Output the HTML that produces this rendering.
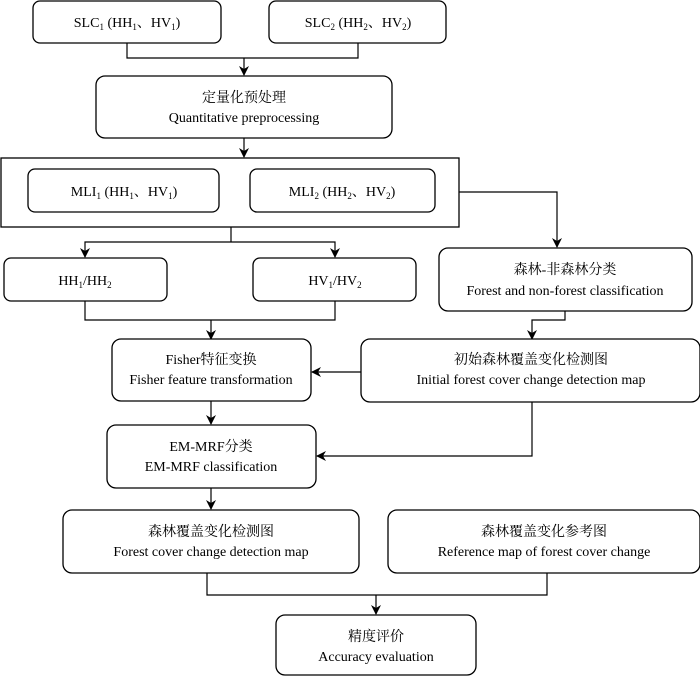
<!DOCTYPE html>
<html><head><meta charset="utf-8"><style>
body{margin:0;background:#fff}
svg{display:block}
text{font-family:"Liberation Serif","Noto Serif CJK SC",serif;font-size:14px;fill:#000;text-anchor:middle}
rect{fill:#fff;stroke:#000;stroke-width:1.3}
path{fill:none;stroke:#000;stroke-width:1.2}
.ah{fill:#000;stroke:none}
</style></head><body>
<svg width="700" height="676" viewBox="0 0 700 676">
<defs><marker id="a" markerWidth="10" markerHeight="10" refX="9" refY="5" orient="auto" markerUnits="userSpaceOnUse"><path class="ah" d="M0,0 L10,5 L0,10 L3,5 Z"/></marker></defs>
<rect x="33" y="1" width="188" height="42" rx="7"/>
<text x="127" y="27">SLC<tspan font-size="9" dy="3">1</tspan><tspan dy="-3"> (HH</tspan><tspan font-size="9" dy="3">1</tspan><tspan dy="-3">、HV</tspan><tspan font-size="9" dy="3">1</tspan><tspan dy="-3">)</tspan></text>
<rect x="269" y="1" width="177" height="42" rx="7"/>
<text x="358" y="27">SLC<tspan font-size="9" dy="3">2</tspan><tspan dy="-3"> (HH</tspan><tspan font-size="9" dy="3">2</tspan><tspan dy="-3">、HV</tspan><tspan font-size="9" dy="3">2</tspan><tspan dy="-3">)</tspan></text>
<path d="M127,43 V58 H358 V43 M244,58 V75" marker-end="url(#a)"/>
<rect x="96" y="76" width="296" height="62" rx="9"/>
<text x="244" y="102">定量化预处理</text>
<text x="244" y="122">Quantitative preprocessing</text>
<path d="M244,138 V157" marker-end="url(#a)"/>
<rect x="1" y="158" width="458" height="69" rx="0"/>
<rect x="28" y="169" width="191" height="43" rx="7"/>
<text x="124" y="196">MLI<tspan font-size="9" dy="3">1</tspan><tspan dy="-3"> (HH</tspan><tspan font-size="9" dy="3">1</tspan><tspan dy="-3">、HV</tspan><tspan font-size="9" dy="3">1</tspan><tspan dy="-3">)</tspan></text>
<rect x="250" y="169" width="185" height="43" rx="7"/>
<text x="342" y="196">MLI<tspan font-size="9" dy="3">2</tspan><tspan dy="-3"> (HH</tspan><tspan font-size="9" dy="3">2</tspan><tspan dy="-3">、HV</tspan><tspan font-size="9" dy="3">2</tspan><tspan dy="-3">)</tspan></text>
<path d="M459,192 H557 V247" marker-end="url(#a)"/>
<path d="M231,227 V242"/>
<path d="M231,242 H85 V257" marker-end="url(#a)"/>
<path d="M231,242 H335 V257" marker-end="url(#a)"/>
<rect x="4" y="258" width="163" height="43" rx="7"/>
<text x="85" y="285">HH<tspan font-size="9" dy="3">1</tspan><tspan dy="-3">/HH</tspan><tspan font-size="9" dy="3">2</tspan></text>
<rect x="253" y="258" width="163" height="43" rx="7"/>
<text x="335" y="285">HV<tspan font-size="9" dy="3">1</tspan><tspan dy="-3">/HV</tspan><tspan font-size="9" dy="3">2</tspan></text>
<rect x="439" y="248" width="253" height="63" rx="9"/>
<text x="565" y="274">森林-非森林分类</text>
<text x="565" y="295">Forest and non-forest classification</text>
<path d="M85,301 V320 H335 V301 M211,320 V339" marker-end="url(#a)"/>
<path d="M565,311 V320 H532 V339" marker-end="url(#a)"/>
<rect x="112" y="339" width="199" height="62" rx="9"/>
<text x="211" y="364">Fisher特征变换</text>
<text x="211" y="384">Fisher feature transformation</text>
<rect x="361" y="339" width="339" height="63" rx="9"/>
<text x="531" y="364">初始森林覆盖变化检测图</text>
<text x="531" y="384">Initial forest cover change detection map</text>
<path d="M361,372 H312" marker-end="url(#a)"/>
<path d="M211,401 V424" marker-end="url(#a)"/>
<rect x="107" y="425" width="209" height="63" rx="9"/>
<text x="211" y="451">EM-MRF分类</text>
<text x="211" y="471">EM-MRF classification</text>
<path d="M532,402 V456 H317" marker-end="url(#a)"/>
<path d="M211,488 V509" marker-end="url(#a)"/>
<rect x="63" y="510" width="296" height="63" rx="9"/>
<text x="211" y="536">森林覆盖变化检测图</text>
<text x="211" y="556">Forest cover change detection map</text>
<rect x="388" y="510" width="312" height="63" rx="9"/>
<text x="544" y="536">森林覆盖变化参考图</text>
<text x="544" y="556">Reference map of forest cover change</text>
<path d="M207,573 V595 H547 V573 M376,595 V614" marker-end="url(#a)"/>
<rect x="276" y="615" width="200" height="60" rx="9"/>
<text x="376" y="641">精度评价</text>
<text x="376" y="661">Accuracy evaluation</text>
</svg>
</body></html>
